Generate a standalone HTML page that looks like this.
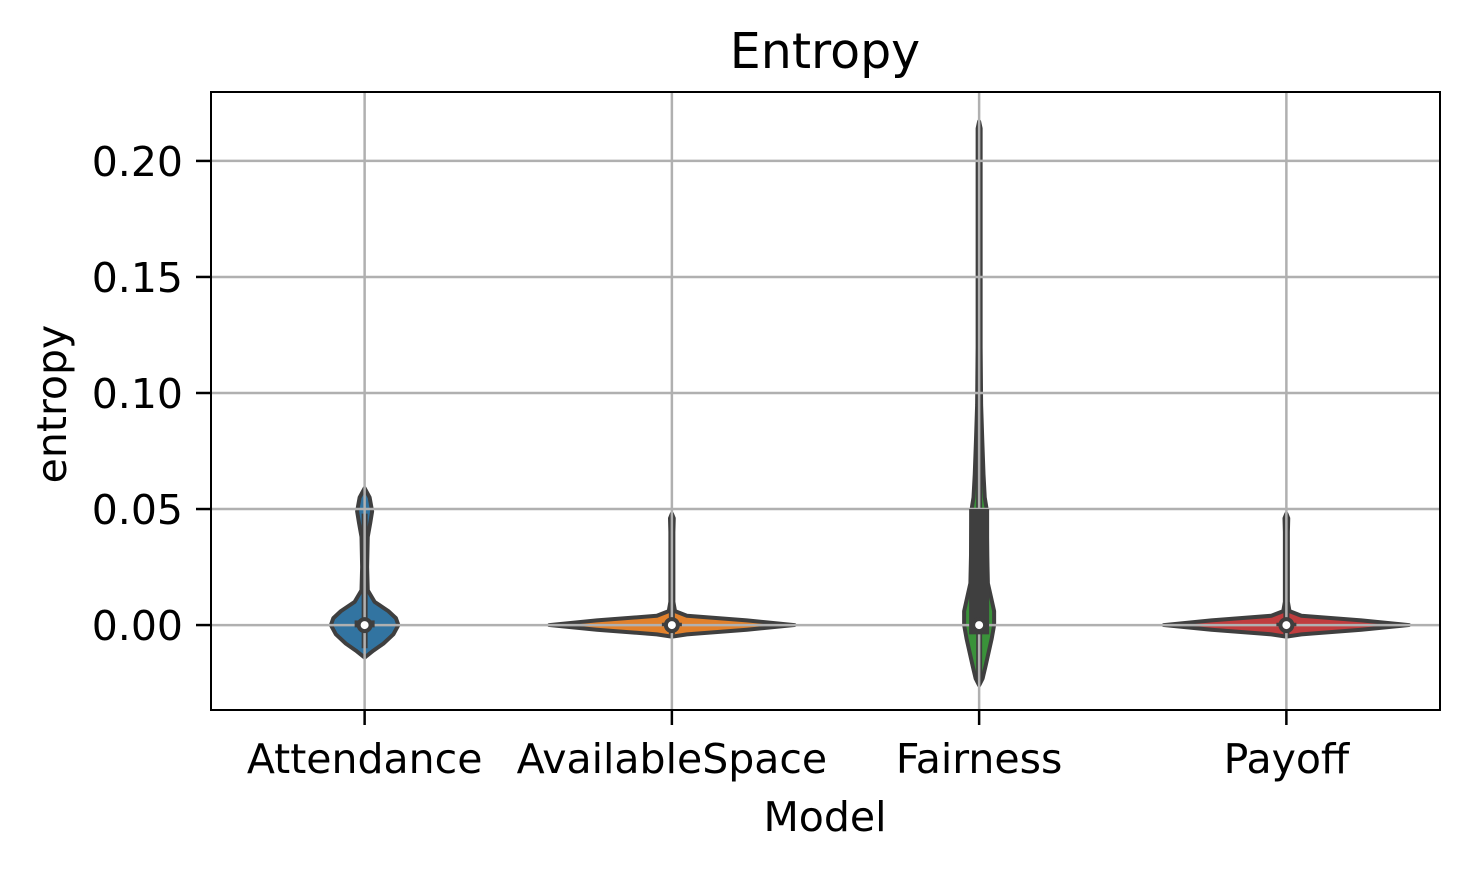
<!DOCTYPE html>
<html><head><meta charset="utf-8"><style>
body{margin:0;background:#fff;}
svg text{font-family:"DejaVu Sans","Liberation Sans",sans-serif;fill:#000;}
</style></head><body>
<svg id="chart" width="1470" height="870">
<text x="825" y="68" font-size="49" text-anchor="middle">Entropy</text>
<text x="825" y="831" font-size="41" text-anchor="middle">Model</text>
<text transform="translate(66,404) rotate(-90)" font-size="41" text-anchor="middle">entropy</text>
<g id="violins"></g><g id="whiskers"></g><g id="grid"></g><g id="boxes"></g><g id="ticks"></g>
<rect x="211" y="92" width="1229" height="618" fill="none" stroke="#000" stroke-width="2"/>
</svg>
<script>
const categories = ["Attendance","AvailableSpace","Fairness","Payoff"];
const colors = ["#3274a1","#e1812c","#3a923a","#c03d3e"];
const yTicks = [0, 0.05, 0.10, 0.15, 0.20];
const yTickLabels = ["0.00","0.05","0.10","0.15","0.20"];
// density profile: [value, relative half-width]
const attendanceShape = [[0.059,0],[0.055,0.04],[0.049,0.06],[0.044,0.045],[0.038,0.025],[0.025,0.02],[0.015,0.025],[0.010,0.08],[0.006,0.19],[0.003,0.25],[0,0.27],[-0.004,0.23],[-0.008,0.15],[-0.011,0.07],[-0.014,0]];
const availableShape = [[0.048,0],[0.046,0.015],[0.040,0.012],[0.010,0.012],[0.006,0.025],[0.004,0.12],[0.002,0.6],[0,0.98],[-0.002,0.6],[-0.004,0.12],[-0.005,0]];
const fairnessShape = [[0.217,0],[0.214,0.012],[0.12,0.012],[0.095,0.016],[0.08,0.025],[0.065,0.035],[0.055,0.045],[0.05,0.06],[0.03,0.065],[0.018,0.07],[0.012,0.095],[0.006,0.12],[0,0.12],[-0.006,0.1],[-0.012,0.075],[-0.018,0.05],[-0.023,0.028],[-0.026,0]];
const payoffShape = [[0.048,0],[0.046,0.015],[0.040,0.012],[0.010,0.012],[0.006,0.025],[0.004,0.12],[0.002,0.6],[0,0.98],[-0.002,0.6],[-0.004,0.12],[-0.005,0]];
const shapes = [attendanceShape, availableShape, fairnessShape, payoffShape];
const q1 = [-0.001, -0.0005, -0.004, -0.0005];
const q3 = [0.002, 0.001, 0.050, 0.001];
const whiskLo = [-0.010, -0.004, -0.024, -0.004];
const whiskHi = [0.048, 0.046, 0.094, 0.046];
const medians = [0, 0, 0, 0];

const NS="http://www.w3.org/2000/svg";
const L=211,R=1440,T=92,B=710;
const yMin=-0.0366,yMax=0.2297;
const y=v=>B-(v-yMin)/(yMax-yMin)*(B-T);
const band=(R-L)/categories.length;
const x=i=>L+band*(i+0.5);
const maxHalf=125;
function mk(tag,attrs,parent){const e=document.createElementNS(NS,tag);for(const k in attrs)e.setAttribute(k,attrs[k]);document.getElementById(parent).appendChild(e);return e;}

categories.forEach((c,i)=>{
  const s=shapes[i],cx=x(i);
  let right=s.map(p=>`${cx+p[1]*maxHalf},${y(p[0])}`);
  let left=s.slice().reverse().map(p=>`${cx-p[1]*maxHalf},${y(p[0])}`);
  const p=mk('path',{d:'M'+right.concat(left).join(' L')+'Z',fill:colors[i],stroke:'#3f3f3f','stroke-width':4,'stroke-linejoin':'round'},'violins');
  
  
});
yTicks.forEach((t,k)=>{
  const g=mk('line',{x1:L,x2:R,y1:y(t),y2:y(t),stroke:'#b0b0b0','stroke-width':2.5},'grid');
  
  
  mk('line',{x1:L-15,x2:L,y1:y(t),y2:y(t),stroke:'#000','stroke-width':2.5},'ticks');
  const tx=mk('text',{x:L-28,y:y(t)+15,'font-size':41,'text-anchor':'end'},'ticks');
  tx.textContent=yTickLabels[k];
  
  
});
categories.forEach((c,i)=>{
  const cx=x(i);
  const g=mk('line',{x1:cx,x2:cx,y1:T,y2:B,stroke:'#b0b0b0','stroke-width':2.5},'grid');
  
  
  mk('line',{x1:cx,x2:cx,y1:B,y2:B+15,stroke:'#000','stroke-width':2.5},'ticks');
  const tx=mk('text',{x:cx,y:B+63,'font-size':41,'text-anchor':'middle'},'ticks');
  tx.textContent=c;
  
  
  const w=mk('line',{x1:cx,x2:cx,y1:y(whiskLo[i]),y2:y(whiskHi[i]),stroke:'#3f3f3f','stroke-width':6},'whiskers');
  
  
  const b=mk('rect',{x:cx-10,width:20,y:y(q3[i]),height:Math.max(1,y(q1[i])-y(q3[i])),fill:'#3f3f3f'},'boxes');
  
  
  const m=mk('circle',{cx:cx,cy:y(medians[i]),r:6,fill:'#fff',stroke:'#3f3f3f','stroke-width':4},'boxes');
  
  
});
</script>
</body></html>
